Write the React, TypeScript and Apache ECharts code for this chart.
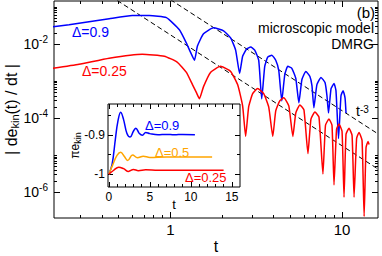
import React, { useEffect, useRef } from 'react';
import * as echarts from 'echarts';

// ---------- main plot data: [t, |de_kin/dt|] ----------
const blueMain: [number, number][] = [
  [0.207, 0.0292], [0.257, 0.0332], [0.336, 0.0401], [0.44, 0.0484], [0.6, 0.0585], [0.754, 0.0585],
  [0.948, 0.0515], [1.129, 0.0242], [1.24, 0.0106], [1.309, 0.00604], [1.382, 0.00365], [1.438, 0.0088],
  [1.56, 0.0188], [1.784, 0.0274], [2.042, 0.0227], [2.244, 0.0146], [2.4, 0.00686], [2.532, 0.0016],
  [2.636, 0.00469], [2.78, 0.0073], [2.937, 0.0083], [3.1, 0.00686], [3.27, 0.00365], [3.405, 0.00033],
  [3.546, 0.00249], [3.69, 0.0044], [3.9, 0.005], [4.11, 0.00365], [4.28, 0.00194], [4.457, 0.00029],
  [4.64, 0.0015], [4.83, 0.00249], [5.1, 0.0022], [5.38, 0.00117], [5.604, 0.00026], [5.84, 0.0011],
  [6.154, 0.00182], [6.5, 0.00133], [6.68, 0.00075], [6.855, 0.00019], [7.14, 0.0008], [7.54, 0.00125],
  [7.96, 0.00091], [8.17, 0.0004], [8.34, 0.000137], [8.63, 0.00062], [8.98, 0.00086], [9.22, 0.00055],
  [9.54, 0.000028], [9.86, 0.0004], [10.14, 0.00055], [10.41, 0.000353], [10.55, 0.000137],
];
const redMain: [number, number][] = [
  [0.207, 0.0022], [0.294, 0.00283], [0.44, 0.00413], [0.686, 0.00532], [0.923, 0.00469], [1.099, 0.00321],
  [1.24, 0.00171], [1.345, 0.0008], [1.419, 0.000484], [1.477, 0.000332], [1.56, 0.000706], [1.714, 0.00171],
  [1.96, 0.00249], [2.244, 0.00182], [2.465, 0.0008], [2.636, 0.000213], [2.745, 0.000032], [2.858, 0.0002],
  [3.016, 0.000455], [3.225, 0.000624], [3.497, 0.000455], [3.74, 0.0002], [3.95, 0.000032], [4.11, 0.000156],
  [4.336, 0.000292], [4.58, 0.000353], [4.897, 0.000213], [5.17, 0.000032], [5.38, 0.000137], [5.68, 0.000227],
  [6.0, 0.000166], [6.33, 0.000011], [6.59, 0.000094], [6.95, 0.000146], [7.34, 0.000106], [7.74, 0.0000031],
  [8.01, 0.000064], [8.39, 0.000094], [8.74, 0.000064], [8.98, 0.00000156], [9.29, 0.00005], [9.6, 0.000069],
  [10.0, 0.000044], [10.27, 0.00000073], [10.55, 0.0000365], [10.98, 0.000053], [11.44, 0.000034],
  [11.75, 0.00000073], [12.16, 0.0000283], [12.56, 0.000041], [13.08, 0.000025], [13.45, 0.00000022],
  [13.8, 0.000016], [14.19, 0.0000234], [14.38, 0.0000194],
];
// t^-3 guide lines (end points)
const guideUpper: [number, number][] = [[1.0, 0.158], [16.2, 0.0000374]];
const guideLower: [number, number][] = [[0.49, 0.15], [16.2, 0.0000042]];

// ---------- inset data: [t, pi*e_kin] ----------
const insetBlue: [number, number][] = [
  [0, -1], [0.4, -0.975], [0.8, -0.91], [1.1, -0.865], [1.45, -0.841], [1.8, -0.86], [2.2, -0.895],
  [2.6, -0.905], [3.0, -0.89], [3.3, -0.882], [3.7, -0.895], [4.1, -0.9], [4.5, -0.893], [5.0, -0.896],
  [6, -0.899], [7, -0.898], [8, -0.899], [9, -0.898], [10.5, -0.899],
];
const insetOrange: [number, number][] = [
  [0, -1], [0.5, -0.975], [1.0, -0.952], [1.45, -0.944], [1.9, -0.955], [2.3, -0.965], [2.9, -0.951],
  [3.5, -0.958], [4.2, -0.954], [5, -0.957], [7, -0.956], [9, -0.956], [12.6, -0.956],
];
const insetRed: [number, number][] = [
  [0, -1], [0.6, -0.99], [1.2, -0.982], [1.8, -0.986], [2.4, -0.993], [3.0, -0.988], [3.6, -0.991],
  [4.5, -0.989], [6, -0.99], [10, -0.99], [14, -0.99],
];

// ---------- ticks ----------
const mainXLabels = [1, 10];
const mainXMajor = [1, 10];
const mainXMinor = [0.3, 0.4, 0.5, 0.6, 0.7, 0.8, 0.9, 2, 3, 4, 5, 6, 7, 8, 9];
const mainYLabels = [1e-6, 1e-4, 1e-2];
const mainYMajor = [1e-6, 1e-4, 1e-2];
const mainYMinor = [
  2e-6, 3e-6, 4e-6, 5e-6, 6e-6, 7e-6, 8e-6, 9e-6, 1e-5,
  2e-4, 3e-4, 4e-4, 5e-4, 6e-4, 7e-4, 8e-4, 9e-4, 1e-3,
  2e-2, 3e-2, 4e-2, 5e-2, 6e-2, 7e-2, 8e-2, 9e-2, 1e-1,
];
const insetXLabels = [0, 5, 10, 15];
const insetXMajor = [0, 5, 10, 15];
const insetXMinor = [1, 2, 3, 4, 6, 7, 8, 9, 11, 12, 13, 14];
const insetYLabels = [-1, -0.9];
const insetYMajor = [-1, -0.9];
const insetYMinor = [-0.95, -0.85];

const BLUE = '#0000ff';
const RED = '#ff0000';
const ORANGE = '#ffa500';
const FONT = 'Liberation Sans, Arial, Helvetica, sans-serif';

const MX = [0.21, 16.2];
const MY = [2e-7, 0.145];
const IX = [-0.1, 16];
const IY = [-1.033, -0.82];

function axis(dim: 'x' | 'y', grid: number, type: 'log' | 'value', ext: number[], pos: string,
  ticks: number[], len: number, extra: any = {}) {
  return {
    type, gridIndex: grid, min: ext[0], max: ext[1], position: pos,
    axisLine: { show: false, onZero: false },
    splitLine: { show: false },
    axisTick: { show: true, inside: true, length: len, customValues: ticks, lineStyle: { color: '#000', width: 1 } },
    axisLabel: { show: false },
    nameMoveOverlap: false,
    z: grid === 1 ? 6 : 1,
    ...extra,
  };
}

function supFmt(v: number) {
  const e = Math.round(Math.log10(v));
  return '10{sup|' + e + '}';
}

export default function App() {
  const ref = useRef<HTMLDivElement>(null);
  useEffect(() => {
    const chart = echarts.init(ref.current!, null, { renderer: 'svg' });
    const mainXLab = {
      axisLabel: { show: true, customValues: mainXLabels, fontSize: 15, color: '#000', fontFamily: FONT, margin: 4,
        formatter: (v: number) => String(Math.round(v)) },
      name: 't', nameLocation: 'middle', nameGap: 20,
      nameTextStyle: { fontSize: 16, lineHeight: 16, color: '#000', fontFamily: FONT },
    };
    const mainYLab = {
      axisLabel: { show: true, customValues: mainYLabels, color: '#000', fontFamily: FONT, margin: 6,
        formatter: supFmt,
        rich: { sup: { fontSize: 10, verticalAlign: 'top', lineHeight: 10, fontFamily: FONT, color: '#000' } },
        fontSize: 14, lineHeight: 20 },
      name: '| de{sub|kin}(t) / dt |', nameLocation: 'middle', nameGap: 34, nameRotate: 90,
      nameTextStyle: { fontSize: 16, color: '#000', fontFamily: FONT, lineHeight: 17,
        rich: { sub: { fontSize: 11, verticalAlign: 'bottom', lineHeight: 12, fontFamily: FONT, color: '#000' } } },
    };
    const insetXLab = {
      axisLabel: { show: true, customValues: insetXLabels, fontSize: 12, color: '#000', fontFamily: FONT, margin: 4 },
      name: 't', nameLocation: 'middle', nameGap: 11,
      nameTextStyle: { fontSize: 13, lineHeight: 13, color: '#000', fontFamily: FONT },
    };
    const insetYLab = {
      axisLabel: { show: true, customValues: insetYLabels, fontSize: 12, color: '#000', fontFamily: FONT, margin: 3,
        formatter: (v: number) => (v === -1 ? '-1' : v.toFixed(1)) },
      name: 'πe{sub|kin}', nameLocation: 'middle', nameGap: 26, nameRotate: 90,
      nameTextStyle: { fontSize: 12, color: '#000', fontFamily: FONT, lineHeight: 14,
        rich: { sub: { fontSize: 9, verticalAlign: 'bottom', lineHeight: 10, fontFamily: FONT, color: '#000' } } },
    };

    const option: any = {
      animation: false,
      backgroundColor: '#fff',
      textStyle: { fontFamily: FONT },
      grid: [
        { left: 54, top: 1, width: 324, height: 217, show: true, borderColor: '#000', borderWidth: 1,
          backgroundColor: 'transparent', containLabel: false, outerBoundsMode: 'none' },
        { left: 108, top: 104, width: 132, height: 83, show: true, borderColor: '#000', borderWidth: 1,
          backgroundColor: '#fff', z: 5, containLabel: false, outerBoundsMode: 'none' },
      ],
      xAxis: [
        axis('x', 0, 'log', MX, 'bottom', mainXMajor, 6, mainXLab),
        axis('x', 0, 'log', MX, 'bottom', mainXMinor, 3),
        axis('x', 0, 'log', MX, 'top', mainXMajor, 6),
        axis('x', 0, 'log', MX, 'top', mainXMinor, 3),
        axis('x', 1, 'value', IX, 'bottom', insetXMajor, 5, insetXLab),
        axis('x', 1, 'value', IX, 'bottom', insetXMinor, 3),
        axis('x', 1, 'value', IX, 'top', insetXMajor, 5),
        axis('x', 1, 'value', IX, 'top', insetXMinor, 3),
      ],
      yAxis: [
        axis('y', 0, 'log', MY, 'left', mainYMajor, 6, mainYLab),
        axis('y', 0, 'log', MY, 'left', mainYMinor, 3),
        axis('y', 0, 'log', MY, 'right', mainYMajor, 6),
        axis('y', 0, 'log', MY, 'right', mainYMinor, 3),
        axis('y', 1, 'value', IY, 'left', insetYMajor, 5, insetYLab),
        axis('y', 1, 'value', IY, 'left', insetYMinor, 3),
        axis('y', 1, 'value', IY, 'right', insetYMajor, 5),
        axis('y', 1, 'value', IY, 'right', insetYMinor, 3),
      ],
      series: [
        { type: 'line', data: guideUpper, xAxisIndex: 0, yAxisIndex: 0, showSymbol: false, symbol: 'none',
          lineStyle: { color: '#000', width: 1, type: [5, 3] }, z: 2 },
        { type: 'line', data: guideLower, xAxisIndex: 0, yAxisIndex: 0, showSymbol: false, symbol: 'none',
          lineStyle: { color: '#000', width: 1, type: [5, 3] }, z: 2 },
        { type: 'line', data: blueMain, xAxisIndex: 0, yAxisIndex: 0, showSymbol: false, symbol: 'none',
          smooth: 0.15, lineStyle: { color: BLUE, width: 1.5 }, z: 3 },
        { type: 'line', data: redMain, xAxisIndex: 0, yAxisIndex: 0, showSymbol: false, symbol: 'none',
          smooth: 0.15, lineStyle: { color: RED, width: 1.5 }, z: 3 },
        { type: 'line', data: insetBlue, xAxisIndex: 4, yAxisIndex: 4, showSymbol: false, symbol: 'none',
          smooth: 0.4, lineStyle: { color: BLUE, width: 1.5 }, z: 7 },
        { type: 'line', data: insetOrange, xAxisIndex: 4, yAxisIndex: 4, showSymbol: false, symbol: 'none',
          smooth: 0.4, lineStyle: { color: ORANGE, width: 1.5 }, z: 7 },
        { type: 'line', data: insetRed, xAxisIndex: 4, yAxisIndex: 4, showSymbol: false, symbol: 'none',
          smooth: 0.4, lineStyle: { color: RED, width: 1.5 }, z: 7 },
      ],
      graphic: [
        { type: 'text', left: 72, top: 25, z: 100, style: { text: 'Δ=0.9', fill: BLUE, fontSize: 14, fontFamily: FONT } },
        { type: 'text', left: 82, top: 64, z: 100, style: { text: 'Δ=0.25', fill: RED, fontSize: 14, fontFamily: FONT } },
        { type: 'text', right: 7, top: 5, z: 100, style: { text: '(b)', fill: '#000', fontSize: 15, fontFamily: FONT } },
        { type: 'text', right: 8, top: 21, z: 100, style: { text: 'microscopic model', fill: '#000', fontSize: 14, fontFamily: FONT } },
        { type: 'text', right: 8, top: 37, z: 100, style: { text: 'DMRG', fill: '#000', fontSize: 14, fontFamily: FONT } },
        { type: 'text', left: 356, top: 104, z: 100, style: {
          text: 't{sup|-3}', fill: '#000', fontSize: 14, fontFamily: FONT,
          rich: { sup: { fontSize: 10, verticalAlign: 'top', lineHeight: 10, fontFamily: FONT, fill: '#000' } } } },
        { type: 'text', left: 145, top: 119, z: 100, style: { text: 'Δ=0.9', fill: BLUE, fontSize: 13, fontFamily: FONT } },
        { type: 'text', left: 155, top: 146, z: 100, style: { text: 'Δ=0.5', fill: ORANGE, fontSize: 13, fontFamily: FONT } },
        { type: 'text', left: 185, top: 171, z: 100, style: { text: 'Δ=0.25', fill: RED, fontSize: 13, fontFamily: FONT } },
      ],
    };
    chart.setOption(option);
    return () => chart.dispose();
  }, []);
  return <div ref={ref} style={{ position: 'absolute', left: 0, top: 0, width: 382, height: 256 }} />;
}
